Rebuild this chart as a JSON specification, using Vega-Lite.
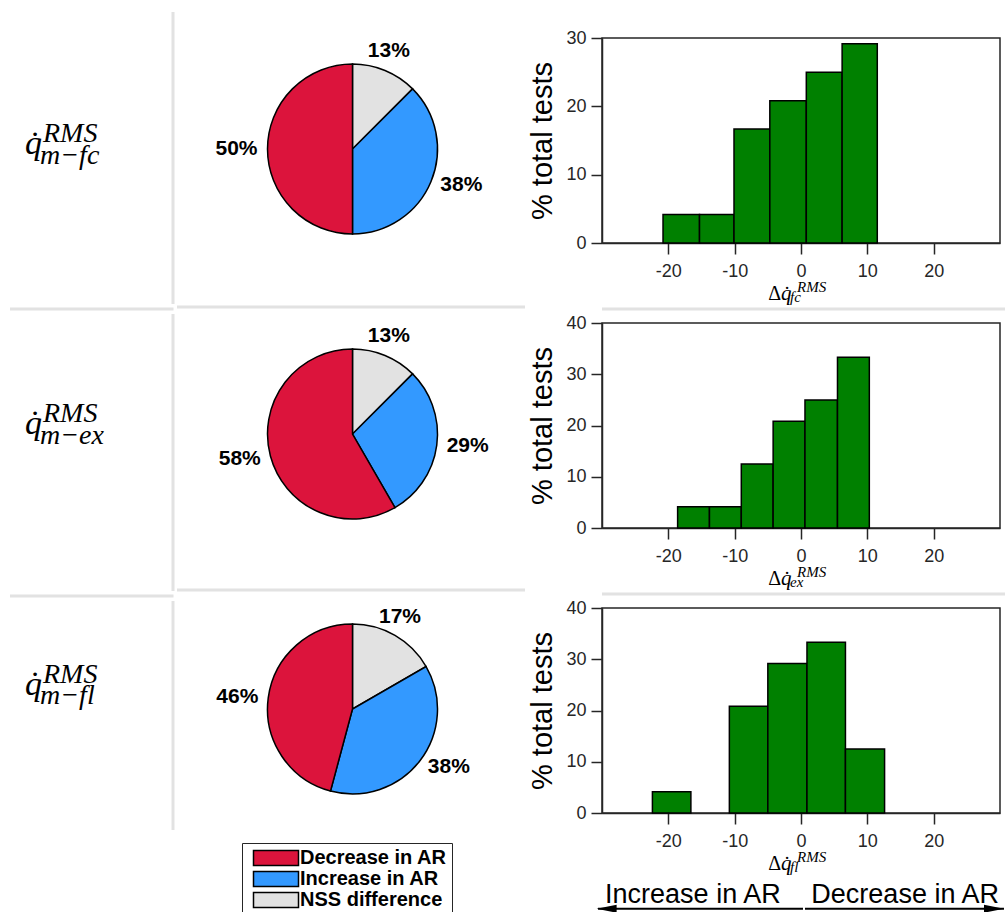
{
"$schema": "https://vega.github.io/schema/vega-lite/v6.json",
"padding": {"left": 8, "top": 10, "right": 0, "bottom": 0},
"autosize": {"type": "pad"},
"background": "white",
"datasets": {
 "pies": [
  {"row": 1, "category": "NSS difference", "frac": 0.125},
  {"row": 1, "category": "Increase in AR", "frac": 0.375},
  {"row": 1, "category": "Decrease in AR", "frac": 0.5},
  {"row": 2, "category": "NSS difference", "frac": 0.125},
  {"row": 2, "category": "Increase in AR", "frac": 0.2917},
  {"row": 2, "category": "Decrease in AR", "frac": 0.5833},
  {"row": 3, "category": "NSS difference", "frac": 0.1667},
  {"row": 3, "category": "Increase in AR", "frac": 0.375},
  {"row": 3, "category": "Decrease in AR", "frac": 0.4583}
 ],
 "hist": [
  {"row": 1, "x0": -20.8, "x1": -15.3, "pct": 4.17},
  {"row": 1, "x0": -15.3, "x1": -10.1, "pct": 4.17},
  {"row": 1, "x0": -10.1, "x1": -4.7, "pct": 16.67},
  {"row": 1, "x0": -4.7, "x1": 0.8, "pct": 20.83},
  {"row": 1, "x0": 0.8, "x1": 6.2, "pct": 25.0},
  {"row": 1, "x0": 6.2, "x1": 11.5, "pct": 29.17},
  {"row": 2, "x0": -18.6, "x1": -13.8, "pct": 4.17},
  {"row": 2, "x0": -13.8, "x1": -9.0, "pct": 4.17},
  {"row": 2, "x0": -9.0, "x1": -4.2, "pct": 12.5},
  {"row": 2, "x0": -4.2, "x1": 0.6, "pct": 20.83},
  {"row": 2, "x0": 0.6, "x1": 5.5, "pct": 25.0},
  {"row": 2, "x0": 5.5, "x1": 10.3, "pct": 33.33},
  {"row": 3, "x0": -22.4, "x1": -16.6, "pct": 4.17},
  {"row": 3, "x0": -10.8, "x1": -5.0, "pct": 20.83},
  {"row": 3, "x0": -5.0, "x1": 0.9, "pct": 29.17},
  {"row": 3, "x0": 0.9, "x1": 6.7, "pct": 33.33},
  {"row": 3, "x0": 6.7, "x1": 12.6, "pct": 12.5}
 ],
 "origin": [{"px": 0, "py": 0}],
 "top30": [{"px": 0, "py": 30}],
 "top40": [{"px": 0, "py": 40}],
 "edge": [{"ex": 1}],
 "mid": [{"my": 0.5}],
 "none": []
},
"spacing": 0,
"hconcat": [
 {
  "spacing": 0,
  "vconcat": [
   {
    "width": 163, "height": 292,
    "data": {"name": "edge"},
    "layer": [
     {"mark": {"type": "rule", "color": "#e2e2e2", "strokeWidth": 3},
      "encoding": {"x": {"field": "ex", "type": "quantitative", "scale": {"domain": [0, 1]}, "axis": null}}},
     {"mark": {"type": "text", "text": "q̇", "font": "Liberation Serif", "fontStyle": "italic", "fontSize": 34, "align": "left", "baseline": "alphabetic", "dx": -66.5, "dy": -4, "color": "black"}, "encoding": {}},
     {"mark": {"type": "text", "text": "RMS", "font": "Liberation Serif", "fontStyle": "italic", "fontSize": 28, "align": "left", "baseline": "alphabetic", "dx": -48.5, "dy": -16, "color": "black"}, "encoding": {}},
     {"mark": {"type": "text", "text": "m−fc", "font": "Liberation Serif", "fontStyle": "italic", "fontSize": 28, "align": "left", "baseline": "alphabetic", "dx": -51.5, "dy": 6, "color": "black"}, "encoding": {}}
    ]
   },
   {
    "width": 163.5, "height": 6,
    "data": {"name": "mid"},
    "mark": {"type": "rule", "color": "#e2e2e2", "strokeWidth": 3},
    "encoding": {"y": {"field": "my", "type": "quantitative", "scale": {"domain": [0, 1]}, "axis": null}}
   },
   {
    "width": 163, "height": 277,
    "data": {"name": "edge"},
    "layer": [
     {"mark": {"type": "rule", "color": "#e2e2e2", "strokeWidth": 3},
      "encoding": {"x": {"field": "ex", "type": "quantitative", "scale": {"domain": [0, 1]}, "axis": null}}},
     {"mark": {"type": "text", "text": "q̇", "font": "Liberation Serif", "fontStyle": "italic", "fontSize": 34, "align": "left", "baseline": "alphabetic", "dx": -66.5, "dy": -19, "color": "black"}, "encoding": {}},
     {"mark": {"type": "text", "text": "RMS", "font": "Liberation Serif", "fontStyle": "italic", "fontSize": 28, "align": "left", "baseline": "alphabetic", "dx": -48.5, "dy": -31, "color": "black"}, "encoding": {}},
     {"mark": {"type": "text", "text": "m−ex", "font": "Liberation Serif", "fontStyle": "italic", "fontSize": 28, "align": "left", "baseline": "alphabetic", "dx": -51.5, "dy": -9, "color": "black"}, "encoding": {}}
    ]
   },
   {
    "width": 163.5, "height": 6,
    "data": {"name": "mid"},
    "mark": {"type": "rule", "color": "#e2e2e2", "strokeWidth": 3},
    "encoding": {"y": {"field": "my", "type": "quantitative", "scale": {"domain": [0, 1]}, "axis": null}}
   },
   {
    "width": 163, "height": 229,
    "data": {"name": "edge"},
    "layer": [
     {"mark": {"type": "rule", "color": "#e2e2e2", "strokeWidth": 3},
      "encoding": {"x": {"field": "ex", "type": "quantitative", "scale": {"domain": [0, 1]}, "axis": null}}},
     {"mark": {"type": "text", "text": "q̇", "font": "Liberation Serif", "fontStyle": "italic", "fontSize": 34, "align": "left", "baseline": "alphabetic", "dx": -66.5, "dy": -21, "color": "black"}, "encoding": {}},
     {"mark": {"type": "text", "text": "RMS", "font": "Liberation Serif", "fontStyle": "italic", "fontSize": 28, "align": "left", "baseline": "alphabetic", "dx": -48.5, "dy": -33, "color": "black"}, "encoding": {}},
     {"mark": {"type": "text", "text": "m−fl", "font": "Liberation Serif", "fontStyle": "italic", "fontSize": 28, "align": "left", "baseline": "alphabetic", "dx": -51.5, "dy": -12, "color": "black"}, "encoding": {}}
    ]
   }
  ]
 },
 {
  "spacing": 0,
  "vconcat": [
   {
    "width": 351, "height": 274,
    "data": {"name": "pies"},
    "transform": [{"filter": "datum.row == 1"}],
    "encoding": {
     "theta": {"field": "frac", "type": "quantitative", "stack": true},
     "order": {"field": "category", "sort": "descending"},
     "color": {"field": "category", "type": "nominal",
      "scale": {"domain": ["Decrease in AR", "Increase in AR", "NSS difference"], "range": ["#DC143C", "#3399FF", "#E2E2E2"]},
      "legend": {"orient": "none", "legendX": 232, "legendY": 831, "title": null, "strokeColor": "#262626", "fillColor": "white", "padding": 5, "symbolType": "M-3,-1H3V1H-3Z", "symbolSize": 225, "symbolStrokeColor": "black", "symbolStrokeWidth": 1.5, "symbolOffset": 19, "labelOffset": 14, "labelFont": "Liberation Sans", "labelFontWeight": "bold", "labelFontSize": 20, "labelColor": "black", "rowPadding": -4}
     }
    },
    "layer": [
     {"mark": {"type": "arc", "outerRadius": 85, "stroke": "black", "strokeWidth": 1.5}},
     {"mark": {"type": "text", "radius": 95, "font": "Liberation Sans", "fontWeight": "bold", "fontSize": 21,
       "align": {"expr": "datum.category == 'NSS difference' ? 'center' : (datum.category == 'Increase in AR' ? 'left' : 'right')"},
       "baseline": {"expr": "datum.category == 'NSS difference' ? 'bottom' : 'middle'"}},
      "encoding": {"text": {"field": "frac", "type": "quantitative", "format": ".0%"}, "color": {"value": "black"}}}
    ]
   },
   {"width": 351, "height": 18, "data": {"name": "none"}, "mark": "point", "encoding": {}},
   {
    "width": 348, "height": 6,
    "data": {"name": "mid"},
    "mark": {"type": "rule", "color": "#e2e2e2", "strokeWidth": 3},
    "encoding": {"y": {"field": "my", "type": "quantitative", "scale": {"domain": [0, 1]}, "axis": null}}
   },
   {
    "width": 351, "height": 248,
    "data": {"name": "pies"},
    "transform": [{"filter": "datum.row == 2"}],
    "encoding": {
     "theta": {"field": "frac", "type": "quantitative", "stack": true},
     "order": {"field": "category", "sort": "descending"},
     "color": {"field": "category", "type": "nominal",
      "scale": {"domain": ["Decrease in AR", "Increase in AR", "NSS difference"], "range": ["#DC143C", "#3399FF", "#E2E2E2"]},
      "legend": {"orient": "none", "legendX": 232, "legendY": 831, "title": null, "strokeColor": "#262626", "fillColor": "white", "padding": 5, "symbolType": "M-3,-1H3V1H-3Z", "symbolSize": 225, "symbolStrokeColor": "black", "symbolStrokeWidth": 1.5, "symbolOffset": 19, "labelOffset": 14, "labelFont": "Liberation Sans", "labelFontWeight": "bold", "labelFontSize": 20, "labelColor": "black", "rowPadding": -4}
     }
    },
    "layer": [
     {"mark": {"type": "arc", "outerRadius": 85, "stroke": "black", "strokeWidth": 1.5}},
     {"mark": {"type": "text", "radius": 95, "font": "Liberation Sans", "fontWeight": "bold", "fontSize": 21,
       "align": {"expr": "datum.category == 'NSS difference' ? 'center' : (datum.category == 'Increase in AR' ? 'left' : 'right')"},
       "baseline": {"expr": "datum.category == 'NSS difference' ? 'bottom' : 'middle'"}},
      "encoding": {"text": {"field": "frac", "type": "quantitative", "format": ".0%"}, "color": {"value": "black"}}}
    ]
   },
   {"width": 351, "height": 29, "data": {"name": "none"}, "mark": "point", "encoding": {}},
   {
    "width": 348, "height": 6,
    "data": {"name": "mid"},
    "mark": {"type": "rule", "color": "#e2e2e2", "strokeWidth": 3},
    "encoding": {"y": {"field": "my", "type": "quantitative", "scale": {"domain": [0, 1]}, "axis": null}}
   },
   {
    "width": 351, "height": 232,
    "data": {"name": "pies"},
    "transform": [{"filter": "datum.row == 3"}],
    "encoding": {
     "theta": {"field": "frac", "type": "quantitative", "stack": true},
     "order": {"field": "category", "sort": "descending"},
     "color": {"field": "category", "type": "nominal",
      "scale": {"domain": ["Decrease in AR", "Increase in AR", "NSS difference"], "range": ["#DC143C", "#3399FF", "#E2E2E2"]},
      "legend": {"orient": "none", "legendX": 232, "legendY": 831, "title": null, "strokeColor": "#262626", "fillColor": "white", "padding": 5, "symbolType": "M-3,-1H3V1H-3Z", "symbolSize": 225, "symbolStrokeColor": "black", "symbolStrokeWidth": 1.5, "symbolOffset": 19, "labelOffset": 14, "labelFont": "Liberation Sans", "labelFontWeight": "bold", "labelFontSize": 20, "labelColor": "black", "rowPadding": -4}
     }
    },
    "layer": [
     {"mark": {"type": "arc", "outerRadius": 85, "stroke": "black", "strokeWidth": 1.5}},
     {"mark": {"type": "text", "radius": 95, "font": "Liberation Sans", "fontWeight": "bold", "fontSize": 21,
       "align": {"expr": "datum.category == 'NSS difference' ? 'center' : (datum.category == 'Increase in AR' ? 'left' : 'right')"},
       "baseline": {"expr": "datum.category == 'NSS difference' ? 'bottom' : 'middle'"}},
      "encoding": {"text": {"field": "frac", "type": "quantitative", "format": ".0%"}, "color": {"value": "black"}}}
    ]
   }
  ]
 },
 {
  "spacing": 0,
  "vconcat": [
   {"width": 1, "height": 1, "data": {"name": "none"}, "mark": "point", "encoding": {}},
   {
    "width": 398, "height": 205,
    "view": {"stroke": "#262626", "strokeWidth": 1.5},
    "layer": [
     {"data": {"name": "hist"},
      "transform": [{"filter": "datum.row == 1"}],
      "mark": {"type": "rect", "color": "#008000", "stroke": "black", "strokeWidth": 1.5},
      "encoding": {
       "x": {"field": "x0", "type": "quantitative", "scale": {"domain": [-30, 30], "nice": false},
        "axis": {"title": null, "values": [-20, -10, 0, 10, 20], "labelExpr": "'' + datum.value", "labelPadding": 8}},
       "x2": {"field": "x1"},
       "y": {"field": "pct", "type": "quantitative", "scale": {"domain": [0, 30], "nice": false},
        "axis": {"title": "% total tests", "values": [0, 10, 20, 30], "labelPadding": 5}},
       "y2": {"datum": 0}
      }},
     {"data": {"name": "top30"},
      "mark": {"type": "text", "text": " ", "fontSize": 1, "baseline": "top", "dy": -24},
      "encoding": {"x": {"field": "px", "type": "quantitative"}, "y": {"field": "py", "type": "quantitative"}}},
     {"data": {"name": "origin"},
      "mark": {"type": "text", "text": " ", "fontSize": 1, "baseline": "bottom", "dy": 62},
      "encoding": {"x": {"field": "px", "type": "quantitative"}, "y": {"field": "py", "type": "quantitative"}}},
     {"data": {"name": "origin"},
      "mark": {"type": "text", "text": "Δ", "font": "Liberation Serif", "fontSize": 20, "align": "right", "baseline": "alphabetic", "dx": -20, "dy": 57, "color": "black"},
      "encoding": {"x": {"field": "px", "type": "quantitative"}, "y": {"field": "py", "type": "quantitative"}}},
     {"data": {"name": "origin"},
      "mark": {"type": "text", "text": "q̇", "font": "Liberation Serif", "fontStyle": "italic", "fontSize": 21, "align": "left", "baseline": "alphabetic", "dx": -20, "dy": 57, "color": "black"},
      "encoding": {"x": {"field": "px", "type": "quantitative"}, "y": {"field": "py", "type": "quantitative"}}},
     {"data": {"name": "origin"},
      "mark": {"type": "text", "text": "RMS", "font": "Liberation Serif", "fontStyle": "italic", "fontSize": 15, "align": "left", "baseline": "alphabetic", "dx": -4, "dy": 49, "color": "black"},
      "encoding": {"x": {"field": "px", "type": "quantitative"}, "y": {"field": "py", "type": "quantitative"}}},
     {"data": {"name": "origin"},
      "mark": {"type": "text", "text": "fc", "font": "Liberation Serif", "fontStyle": "italic", "fontSize": 15, "align": "left", "baseline": "alphabetic", "dx": -11, "dy": 59, "color": "black"},
      "encoding": {"x": {"field": "px", "type": "quantitative"}, "y": {"field": "py", "type": "quantitative"}}}
    ]
   },
   {
    "width": 474, "height": 6,
    "data": {"name": "mid"},
    "mark": {"type": "rule", "color": "#e2e2e2", "strokeWidth": 3},
    "encoding": {"y": {"field": "my", "type": "quantitative", "scale": {"domain": [0, 1]}, "axis": null}}
   },
   {
    "width": 398, "height": 205,
    "view": {"stroke": "#262626", "strokeWidth": 1.5},
    "layer": [
     {"data": {"name": "hist"},
      "transform": [{"filter": "datum.row == 2"}],
      "mark": {"type": "rect", "color": "#008000", "stroke": "black", "strokeWidth": 1.5},
      "encoding": {
       "x": {"field": "x0", "type": "quantitative", "scale": {"domain": [-30, 30], "nice": false},
        "axis": {"title": null, "values": [-20, -10, 0, 10, 20], "labelExpr": "'' + datum.value", "labelPadding": 8}},
       "x2": {"field": "x1"},
       "y": {"field": "pct", "type": "quantitative", "scale": {"domain": [0, 40], "nice": false},
        "axis": {"title": "% total tests", "values": [0, 10, 20, 30, 40], "labelPadding": 5}},
       "y2": {"datum": 0}
      }},
     {"data": {"name": "top40"},
      "mark": {"type": "text", "text": " ", "fontSize": 1, "baseline": "top", "dy": -10},
      "encoding": {"x": {"field": "px", "type": "quantitative"}, "y": {"field": "py", "type": "quantitative"}}},
     {"data": {"name": "origin"},
      "mark": {"type": "text", "text": " ", "fontSize": 1, "baseline": "bottom", "dy": 62},
      "encoding": {"x": {"field": "px", "type": "quantitative"}, "y": {"field": "py", "type": "quantitative"}}},
     {"data": {"name": "origin"},
      "mark": {"type": "text", "text": "Δ", "font": "Liberation Serif", "fontSize": 20, "align": "right", "baseline": "alphabetic", "dx": -20, "dy": 57, "color": "black"},
      "encoding": {"x": {"field": "px", "type": "quantitative"}, "y": {"field": "py", "type": "quantitative"}}},
     {"data": {"name": "origin"},
      "mark": {"type": "text", "text": "q̇", "font": "Liberation Serif", "fontStyle": "italic", "fontSize": 21, "align": "left", "baseline": "alphabetic", "dx": -20, "dy": 57, "color": "black"},
      "encoding": {"x": {"field": "px", "type": "quantitative"}, "y": {"field": "py", "type": "quantitative"}}},
     {"data": {"name": "origin"},
      "mark": {"type": "text", "text": "RMS", "font": "Liberation Serif", "fontStyle": "italic", "fontSize": 15, "align": "left", "baseline": "alphabetic", "dx": -4, "dy": 49, "color": "black"},
      "encoding": {"x": {"field": "px", "type": "quantitative"}, "y": {"field": "py", "type": "quantitative"}}},
     {"data": {"name": "origin"},
      "mark": {"type": "text", "text": "ex", "font": "Liberation Serif", "fontStyle": "italic", "fontSize": 15, "align": "left", "baseline": "alphabetic", "dx": -11, "dy": 59, "color": "black"},
      "encoding": {"x": {"field": "px", "type": "quantitative"}, "y": {"field": "py", "type": "quantitative"}}}
    ]
   },
   {
    "width": 474, "height": 6,
    "data": {"name": "mid"},
    "mark": {"type": "rule", "color": "#e2e2e2", "strokeWidth": 3},
    "encoding": {"y": {"field": "my", "type": "quantitative", "scale": {"domain": [0, 1]}, "axis": null}}
   },
   {
    "width": 398, "height": 205,
    "view": {"stroke": "#262626", "strokeWidth": 1.5},
    "layer": [
     {"data": {"name": "hist"},
      "transform": [{"filter": "datum.row == 3"}],
      "mark": {"type": "rect", "color": "#008000", "stroke": "black", "strokeWidth": 1.5},
      "encoding": {
       "x": {"field": "x0", "type": "quantitative", "scale": {"domain": [-30, 30], "nice": false},
        "axis": {"title": null, "values": [-20, -10, 0, 10, 20], "labelExpr": "'' + datum.value", "labelPadding": 8}},
       "x2": {"field": "x1"},
       "y": {"field": "pct", "type": "quantitative", "scale": {"domain": [0, 40], "nice": false},
        "axis": {"title": "% total tests", "values": [0, 10, 20, 30, 40], "labelPadding": 5}},
       "y2": {"datum": 0}
      }},
     {"data": {"name": "top40"},
      "mark": {"type": "text", "text": " ", "fontSize": 1, "baseline": "top", "dy": -10},
      "encoding": {"x": {"field": "px", "type": "quantitative"}, "y": {"field": "py", "type": "quantitative"}}},
     {"data": {"name": "origin"},
      "mark": {"type": "text", "text": "Δ", "font": "Liberation Serif", "fontSize": 20, "align": "right", "baseline": "alphabetic", "dx": -20, "dy": 57, "color": "black"},
      "encoding": {"x": {"field": "px", "type": "quantitative"}, "y": {"field": "py", "type": "quantitative"}}},
     {"data": {"name": "origin"},
      "mark": {"type": "text", "text": "q̇", "font": "Liberation Serif", "fontStyle": "italic", "fontSize": 21, "align": "left", "baseline": "alphabetic", "dx": -20, "dy": 57, "color": "black"},
      "encoding": {"x": {"field": "px", "type": "quantitative"}, "y": {"field": "py", "type": "quantitative"}}},
     {"data": {"name": "origin"},
      "mark": {"type": "text", "text": "RMS", "font": "Liberation Serif", "fontStyle": "italic", "fontSize": 15, "align": "left", "baseline": "alphabetic", "dx": -4, "dy": 49, "color": "black"},
      "encoding": {"x": {"field": "px", "type": "quantitative"}, "y": {"field": "py", "type": "quantitative"}}},
     {"data": {"name": "origin"},
      "mark": {"type": "text", "text": "fl", "font": "Liberation Serif", "fontStyle": "italic", "fontSize": 15, "align": "left", "baseline": "alphabetic", "dx": -11, "dy": 59, "color": "black"},
      "encoding": {"x": {"field": "px", "type": "quantitative"}, "y": {"field": "py", "type": "quantitative"}}},
     {"data": {"values": [{"label": "Increase in AR", "pos": -16.3, "lvl": 0}, {"label": "Decrease in AR", "pos": 15.7, "lvl": 0}]},
      "mark": {"type": "text", "font": "Liberation Sans", "fontSize": 27, "align": "center", "baseline": "alphabetic", "dy": 90, "color": "black"},
      "encoding": {"x": {"field": "pos", "type": "quantitative"}, "y": {"field": "lvl", "type": "quantitative"}, "text": {"field": "label"}}},
     {"data": {"values": [{"a": -30.6, "b": 0.3, "lvl": -18.7}, {"a": 0.6, "b": 30.6, "lvl": -18.7}]},
      "mark": {"type": "rule", "color": "black", "strokeWidth": 2},
      "encoding": {"x": {"field": "a", "type": "quantitative"}, "x2": {"field": "b"}, "y": {"field": "lvl", "type": "quantitative"}}},
     {"data": {"values": [{"tip": -29.3, "dir": "left", "lvl": -18.7}, {"tip": 29.1, "dir": "right", "lvl": -18.7}]},
      "mark": {"type": "point", "filled": true, "color": "black", "size": 400, "opacity": 1},
      "encoding": {"x": {"field": "tip", "type": "quantitative"}, "y": {"field": "lvl", "type": "quantitative"},
       "shape": {"field": "dir", "type": "nominal", "scale": {"domain": ["left", "right"], "range": ["M-1,0L1,-0.4L1,0.4Z", "M1,0L-1,-0.4L-1,0.4Z"]}, "legend": null}}}
    ]
   }
  ]
 }
],
"config": {
 "view": {"stroke": null},
 "font": "Liberation Sans",
 "axis": {"domainColor": "#262626", "domainWidth": 1.5, "tickColor": "#262626", "tickWidth": 1.5, "tickSize": 11, "labelFont": "Liberation Sans", "labelFontSize": 18, "labelColor": "#262626", "labelFlush": false, "labelOverlap": false, "grid": false, "titleFont": "Liberation Sans", "titleFontSize": 29, "titleFontWeight": "normal", "titleColor": "black", "titlePadding": 8}
}
}
